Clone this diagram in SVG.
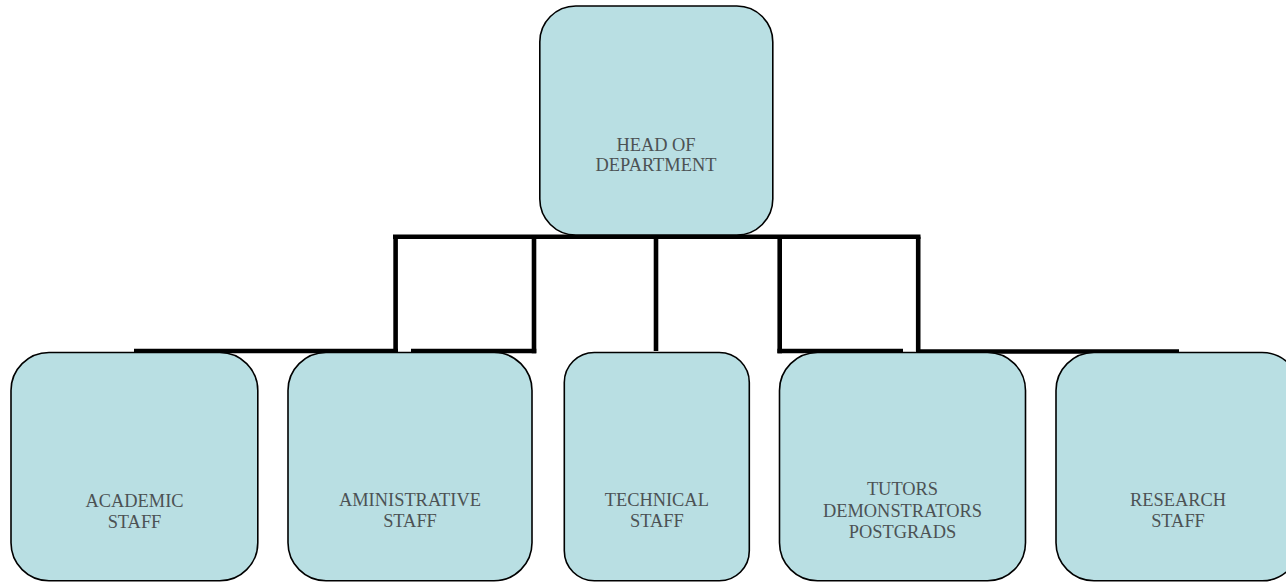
<svg xmlns="http://www.w3.org/2000/svg" width="1286" height="582" viewBox="0 0 1286 582">
  <style>
    .box { fill: #b9dfe3; stroke: #000; stroke-width: 1.6; }
    .lbl { font-family: "Liberation Serif", "Times New Roman", serif; font-size: 18.4px; fill: #4c5254; text-anchor: middle; }
    .conn { fill: none; stroke: #000; stroke-width: 4.6; stroke-linecap: butt; }
  </style>
  <rect width="1286" height="582" fill="#fff"/>
  <g id="connectors">
    <line class="conn" x1="393" y1="236.7" x2="920.5" y2="236.7"/>
    <line class="conn" x1="395.6" y1="236.7" x2="395.6" y2="351"/>
    <line class="conn" x1="134" y1="351" x2="398" y2="351"/>
    <line class="conn" x1="534" y1="236.7" x2="534" y2="353.3"/>
    <line class="conn" x1="411" y1="351" x2="536.3" y2="351"/>
    <line class="conn" x1="656" y1="236.7" x2="656" y2="351"/>
    <line class="conn" x1="779.7" y1="236.7" x2="779.7" y2="353.3"/>
    <line class="conn" x1="777.4" y1="351" x2="903" y2="351"/>
    <line class="conn" x1="918.2" y1="236.7" x2="918.2" y2="351"/>
    <line class="conn" x1="916" y1="351.5" x2="1179" y2="351.5"/>
  </g>
  <g id="head">
    <rect class="box" x="539.8" y="6" width="233" height="229" rx="36" ry="36"/>
    <text class="lbl" x="656" y="150.7">HEAD OF</text>
    <text class="lbl" x="656" y="171">DEPARTMENT</text>
  </g>
  <g id="academic">
    <rect class="box" x="11" y="352.5" width="246.8" height="228.3" rx="38" ry="38"/>
    <text class="lbl" x="134.5" y="506.5">ACADEMIC</text>
    <text class="lbl" x="134.5" y="528">STAFF</text>
  </g>
  <g id="administrative">
    <rect class="box" x="288" y="352.5" width="244" height="228.3" rx="38" ry="38"/>
    <text class="lbl" x="410" y="505.8">AMINISTRATIVE</text>
    <text class="lbl" x="410" y="527.3">STAFF</text>
  </g>
  <g id="technical">
    <rect class="box" x="564.3" y="352.5" width="185" height="228.3" rx="30" ry="30"/>
    <text class="lbl" x="656.8" y="505.8">TECHNICAL</text>
    <text class="lbl" x="656.8" y="527.3">STAFF</text>
  </g>
  <g id="tutors">
    <rect class="box" x="779.5" y="352.5" width="246" height="228.3" rx="38" ry="38"/>
    <text class="lbl" x="902.5" y="495">TUTORS</text>
    <text class="lbl" x="902.5" y="516.5">DEMONSTRATORS</text>
    <text class="lbl" x="902.5" y="537.5">POSTGRADS</text>
  </g>
  <g id="research">
    <rect class="box" x="1056" y="352.5" width="244" height="228.3" rx="38" ry="38"/>
    <text class="lbl" x="1178" y="505.8">RESEARCH</text>
    <text class="lbl" x="1178" y="527.3">STAFF</text>
  </g>
</svg>
